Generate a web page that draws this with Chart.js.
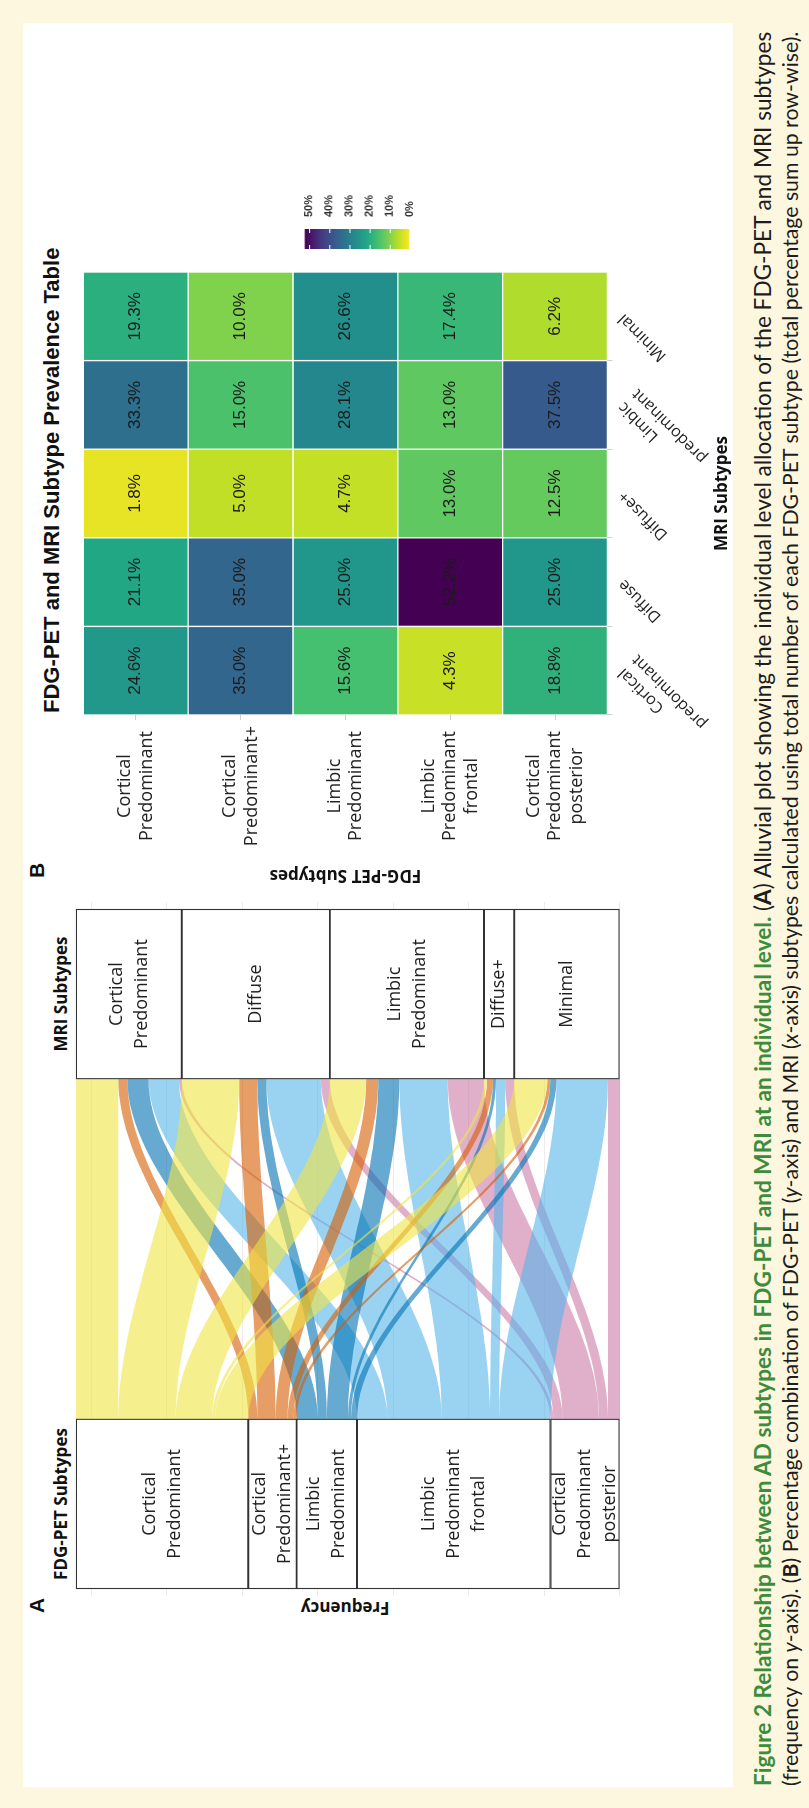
<!DOCTYPE html>
<html>
<head>
<meta charset="utf-8">
<script src="https://cdn.jsdelivr.net/npm/chart.js@4.4.1/dist/chart.umd.min.js"></script>
<style>
  html, body { margin: 0; padding: 0; }
  body { width: 809px; height: 1808px; overflow: hidden; background: #fdf7df; position: relative; }
  /* the figure is laid out landscape, then turned a quarter to the left */
  #fig { position: absolute; left: 0; top: 0; width: 1808px; height: 809px;
         transform-origin: 0 0; transform: translate(0, 1808px) rotate(-90deg); }
  #sheet { position: absolute; left: 21px; top: 23px; width: 1764px; height: 710px; background: #fff; }
  canvas { position: absolute; }
  .txt { position: absolute; white-space: nowrap; color: #111; }
  .panel { font: bold 21px "Liberation Sans", Arial, sans-serif; }
  .axis { font: bold 17px "Open Sans", sans-serif; }
  .cap { position: absolute; left: 22px; white-space: nowrap; display: inline-block;
         font-family: Lato, "Open Sans", sans-serif; font-size: 19px; color: #1d1d1d; line-height: 1; }
  .cap .g { color: #3b8c3b; font-weight: bold; }
</style>
</head>
<body>
<div id="fig">
  <div id="sheet"></div>

  <div class="txt panel" style="left:195px; top:25px;">A</div>
  <div class="txt axis" id="freq" style="left:160px; top:338px; transform: rotate(-90deg); transform-origin: 50% 50%; width:80px; text-align:center;">Frequency</div>
  <div class="txt axis" style="left:219px; top:49px; width:170px; text-align:center;">FDG-PET Subtypes</div>
  <div class="txt axis" style="left:729px; top:49px; width:170px; text-align:center;">MRI Subtypes</div>
  <canvas id="alluvial" width="694" height="550"></canvas>

  <div class="txt panel" style="left:930px; top:25px;">B</div>
  <div class="txt" style="left:1095px; top:39px; font: bold 22px 'Liberation Sans', Arial, sans-serif;">FDG-PET and MRI Subtype Prevalence Table</div>
  <canvas id="heat" width="620" height="660"></canvas>
  <canvas id="scale" width="70" height="130"></canvas>

  <div class="cap" style="top:752px;"><span class="g">Figure 2 Relationship between AD subtypes in FDG-PET and MRI at an individual level.</span> (<b>A</b>) Alluvial plot showing the individual level allocation of the FDG-PET and MRI subtypes</div>
  <div class="cap" style="top:780px;">(frequency on <i>y</i>-axis). (<b>B</b>) Percentage combination of FDG-PET (<i>y</i>-axis) and MRI (<i>x</i>-axis) subtypes calculated using total number of each FDG-PET subtype (total percentage sum up row-wise).</div>
</div>

<script>
// Panel B: row-wise percentages, one array per FDG-PET subtype (columns follow mriSubtypes).
const mriSubtypes = [['Cortical', 'predominant'], 'Diffuse', 'Diffuse+', ['Limbic', 'predominant'], 'Minimal'];
const fdgSubtypes = [
  ['Cortical', 'Predominant'],
  ['Cortical', 'Predominant+'],
  ['Limbic', 'Predominant'],
  ['Limbic', 'Predominant', 'frontal'],
  ['Cortical', 'Predominant', 'posterior']
];
const pctCortical = [24.6, 21.1, 1.8, 33.3, 19.3];
const pctCorticalPlus = [35.0, 35.0, 5.0, 15.0, 10.0];
const pctLimbic = [15.6, 25.0, 4.7, 28.1, 26.6];
const pctLimbicFrontal = [4.3, 52.2, 13.0, 13.0, 17.4];
const pctCorticalPosterior = [18.8, 25.0, 12.5, 37.5, 6.2];
const legendTicks = [0, 10, 20, 30, 40, 50];

// Panel A: strata as drawn, and patient counts of each coloured flow into the MRI strata.
const fdgStrata = ['Cortical\nPredominant', 'Cortical\nPredominant+', 'Limbic\nPredominant', 'Limbic\nPredominant\nfrontal', 'Cortical\nPredominant\nposterior'];
const mriStrata = ['Cortical\nPredominant', 'Diffuse', 'Limbic\nPredominant', 'Diffuse+', 'Minimal'];
const flowYellow = [14, 19, 12, 1, 11];
const flowOrange = [3, 6, 4, 2, 1];
const flowDarkBlue = [7, 3, 7, 1, 2];
const flowLightBlue = [10, 18, 16, 3, 17];
const flowPink = [1, 3, 12, 3, 4];
const frequencyTicks = [0, 25, 50, 75, 100, 125, 150, 175];

const flowColors = [
  'rgba(240, 228, 66, 0.6)',
  'rgba(213, 94, 0, 0.6)',
  'rgba(0, 114, 178, 0.6)',
  'rgba(86, 180, 233, 0.6)',
  'rgba(204, 121, 167, 0.6)'
];

const sum = arr => arr.reduce((a, b) => a + b, 0);

// Move a chart so that its plot area lands on the given box.
const placeChart = (chart, left, top, w, h) => {
  let area = chart.chartArea;
  chart.resize(chart.width + (w - (area.right - area.left)), chart.height + (h - (area.bottom - area.top)));
  area = chart.chartArea;
  chart.canvas.style.left = (left - area.left) + 'px';
  chart.canvas.style.top = (top - area.top) + 'px';
};

const baseOptions = {
  responsive: false,
  maintainAspectRatio: false,
  animation: false,
  devicePixelRatio: 1,
  events: [],
  layout: { padding: 0 },
  plugins: { legend: { display: false }, tooltip: { enabled: false } }
};

// ---------- Panel A: alluvial plot ----------
const flowCounts = [flowYellow, flowOrange, flowDarkBlue, flowLightBlue, flowPink];
const total = sum(flowCounts.map(sum));
const fdgTotals = flowCounts.map(sum);
const mriTotals = mriStrata.map((_, j) => sum(flowCounts.map(r => r[j])));

const stackTops = totals => totals.map((_, i) => total - sum(totals.slice(0, i)));
const fdgTops = stackTops(fdgTotals);
const mriTops = stackTops(mriTotals);

const fdgAxis = 1;
const mriAxis = 2;
const boxWidth = 1 / 3;
const flowStart = fdgAxis + boxWidth / 2;
const flowEnd = mriAxis - boxWidth / 2;

const curve = (yFrom, yTo) => {
  const pts = [];
  for (let k = 0; k <= 40; k++) {
    const t = k / 40;
    const s = t * t * (3 - 2 * t);
    pts.push({ x: flowStart + (flowEnd - flowStart) * t, y: yFrom + (yTo - yFrom) * s });
  }
  return pts;
};

const flowDatasets = [];
flowCounts.forEach((row, i) => {
  row.forEach((count, j) => {
    if (!count) return;
    const fromTop = fdgTops[i] - sum(row.slice(0, j));
    const toTop = mriTops[j] - sum(flowCounts.slice(0, i).map(r => r[j]));
    const common = { type: 'line', borderWidth: 0, borderColor: 'transparent', pointRadius: 0, order: 2 };
    flowDatasets.push({ ...common, data: curve(fromTop, toTop), fill: '+1', backgroundColor: flowColors[i] });
    flowDatasets.push({ ...common, data: curve(fromTop - count, toTop - count), fill: false });
  });
});

const strataLabels = fdgStrata.concat(mriStrata);
const boxData = fdgTotals.map((n, i) => ({ x: fdgAxis, y: [fdgTops[i] - n, fdgTops[i]] }))
  .concat(mriTotals.map((n, j) => ({ x: mriAxis, y: [mriTops[j] - n, mriTops[j]] })));

const strataText = {
  id: 'strataText',
  afterDatasetsDraw(chart) {
    const ctx = chart.ctx;
    const meta = chart.getDatasetMeta(0);
    ctx.save();
    ctx.font = '18px "Open Sans", sans-serif';
    ctx.fillStyle = '#1e1e1e';
    ctx.textAlign = 'center';
    ctx.textBaseline = 'middle';
    meta.data.forEach((box, k) => {
      const lines = strataLabels[k].split('\n');
      const mid = (box.y + box.base) / 2;
      lines.forEach((line, l) => ctx.fillText(line, box.x, mid + (l - (lines.length - 1) / 2) * 25));
    });
    ctx.restore();
  }
};

const alluvialChart = new Chart(document.getElementById('alluvial'), {
  type: 'line',
  data: {
    datasets: [{
      type: 'bar',
      data: boxData,
      backgroundColor: '#ffffff',
      borderColor: '#333333',
      borderWidth: 1.3,
      borderSkipped: false,
      barThickness: 170,
      grouped: false,
      clip: false,
      order: 0
    }].concat(flowDatasets)
  },
  options: {
    ...baseOptions,
    scales: {
      x: { type: 'linear', display: false, offset: false, min: fdgAxis - boxWidth / 2 - 0.014, max: mriAxis + boxWidth / 2 + 0.014 },
      y: {
        type: 'linear',
        min: -1,
        max: total + 1,
        afterBuildTicks: scale => { scale.ticks = frequencyTicks.map(v => ({ value: v })); },
        afterFit: scale => { scale.width = 0; },
        ticks: { display: false },
        border: { display: false },
        grid: { color: 'rgba(0,0,0,0.08)', lineWidth: 1, drawTicks: false }
      }
    }
  },
  plugins: [strataText]
});
placeChart(alluvialChart, 212, 73, 694, 550);

// ---------- Panel B: prevalence heatmap ----------
const pctRows = [pctCortical, pctCorticalPlus, pctLimbic, pctLimbicFrontal, pctCorticalPosterior];
const maxPct = Math.max(...pctRows.flat());

const viridisStops = ['#440154', '#482475', '#414487', '#355f8d', '#2a788e', '#21918c', '#22a884', '#44bf70', '#7ad151', '#bddf26', '#fde725'];
const hexRgb = h => [1, 3, 5].map(k => parseInt(h.slice(k, k + 2), 16));
const viridis = t => {
  t = Math.min(1, Math.max(0, t));
  const p = t * 10;
  const i = Math.min(9, Math.floor(p));
  const f = p - i;
  const a = hexRgb(viridisStops[i]);
  const b = hexRgb(viridisStops[i + 1]);
  const c = a.map((v, k) => Math.round(v + (b[k] - v) * f));
  return `rgb(${c[0]}, ${c[1]}, ${c[2]})`;
};
// high share -> dark purple, low share -> yellow
const pctColor = v => viridis(1 - v / maxPct);

const cellText = {
  id: 'cellText',
  afterDatasetsDraw(chart) {
    const ctx = chart.ctx;
    ctx.save();
    ctx.font = '17px "Liberation Sans", Arial, sans-serif';
    ctx.fillStyle = '#1a1a1a';
    ctx.textAlign = 'center';
    ctx.textBaseline = 'middle';
    chart.data.datasets.forEach((ds, i) => {
      chart.getDatasetMeta(i).data.forEach((cell, j) => {
        ctx.fillText(ds.pct[j].toFixed(1) + '%', cell.x, (cell.y + cell.base) / 2);
      });
    });
    ctx.restore();
  }
};

const heatChart = new Chart(document.getElementById('heat'), {
  type: 'bar',
  data: {
    labels: mriSubtypes,
    datasets: pctRows.map(row => ({
      data: row.map(() => 1),
      pct: row,
      backgroundColor: row.map(pctColor),
      borderColor: 'rgba(255,255,255,0.18)',
      borderWidth: 1,
      borderSkipped: false,
      barPercentage: 1,
      categoryPercentage: 1
    }))
  },
  options: {
    ...baseOptions,
    scales: {
      x: {
        stacked: true,
        afterFit: scale => { scale.height = 125; },
        grid: { display: true, drawOnChartArea: false, color: '#cfcfcf', tickLength: 5 },
        border: { display: false },
        ticks: { minRotation: 45, maxRotation: 45, autoSkip: false, padding: 2, color: '#222', font: { family: '"Open Sans", sans-serif', size: 16 } },
        title: { display: true, text: 'MRI Subtypes', color: '#111', padding: 0, font: { family: '"Open Sans", sans-serif', size: 17, weight: 'bold' } }
      },
      y: {
        stacked: true,
        reverse: true,
        min: 0,
        max: fdgSubtypes.length,
        afterFit: scale => { scale.width = 170; },
        afterBuildTicks: scale => { scale.ticks = fdgSubtypes.map((_, i) => ({ value: i + 0.5 })); },
        grid: { display: true, drawOnChartArea: false, color: '#cfcfcf', tickLength: 5 },
        border: { display: false },
        ticks: {
          crossAlign: 'center',
          padding: 6,
          color: '#222',
          font: { family: '"Open Sans", sans-serif', size: 18 },
          callback: v => fdgSubtypes[Math.floor(v)]
        },
        title: { display: true, text: 'FDG-PET Subtypes', color: '#111', padding: 0, font: { family: '"Open Sans", sans-serif', size: 17, weight: 'bold' } }
      }
    }
  },
  plugins: [cellText]
});
placeChart(heatChart, 1093, 83, 443, 524);

// ---------- colour bar ----------
const whiteTicks = {
  id: 'whiteTicks',
  afterDatasetsDraw(chart) {
    const { ctx, chartArea: a } = chart;
    const y = chart.scales.y;
    ctx.save();
    ctx.strokeStyle = '#ffffff';
    ctx.lineWidth = 1;
    legendTicks.forEach(v => {
      const py = Math.round(y.getPixelForValue(v)) + 0.5;
      ctx.beginPath();
      ctx.moveTo(a.left, py); ctx.lineTo(a.left + 4, py);
      ctx.moveTo(a.right - 4, py); ctx.lineTo(a.right, py);
      ctx.stroke();
    });
    ctx.restore();
  }
};

const scaleChart = new Chart(document.getElementById('scale'), {
  type: 'bar',
  data: {
    labels: [''],
    datasets: [{
      data: [[0, maxPct]],
      barPercentage: 1,
      categoryPercentage: 1,
      backgroundColor: ctx => {
        const a = ctx.chart.chartArea;
        if (!a) return null;
        const g = ctx.chart.ctx.createLinearGradient(0, a.bottom, 0, a.top);
        for (let k = 0; k <= 10; k++) g.addColorStop(k / 10, viridis(1 - k / 10));
        return g;
      }
    }]
  },
  options: {
    ...baseOptions,
    scales: {
      x: { display: false },
      y: {
        position: 'right',
        min: 0,
        max: maxPct,
        afterBuildTicks: scale => { scale.ticks = legendTicks.map(v => ({ value: v })); },
        afterFit: scale => { scale.width = 34; },
        grid: { display: false },
        border: { display: false },
        ticks: { padding: 4, color: '#333', font: { family: '"Liberation Sans", Arial, sans-serif', size: 11, weight: 'bold' }, callback: v => v + '%' }
      }
    }
  },
  plugins: [whiteTicks]
});
placeChart(scaleChart, 1559, 305, 20, 104);

// ---------- caption lines stretched to the sheet width ----------
document.querySelectorAll('.cap').forEach(el => {
  const target = 1754;
  const size = 19 * target / el.offsetWidth;
  el.style.fontSize = size.toFixed(2) + 'px';
});
</script>
</body>
</html>
